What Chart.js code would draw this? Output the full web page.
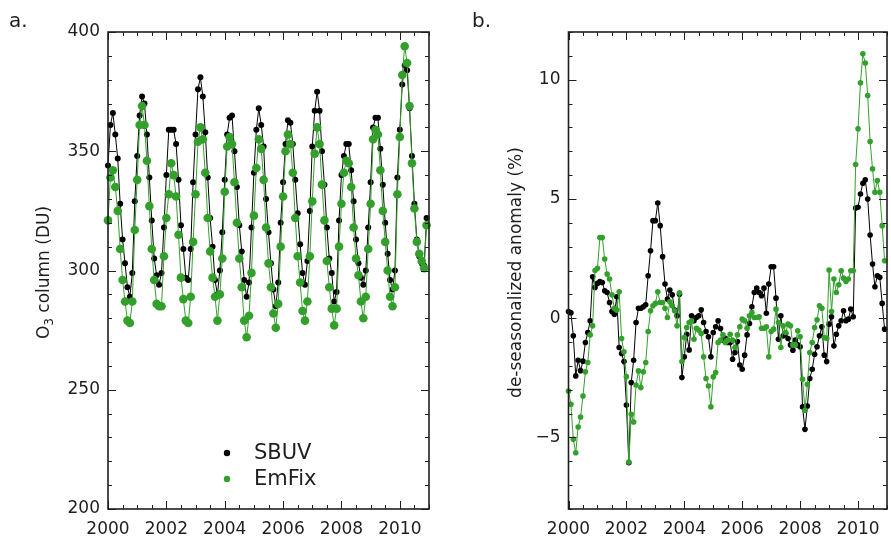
<!DOCTYPE html>
<html>
<head>
<meta charset="utf-8">
<script src="https://cdn.jsdelivr.net/npm/chart.js@4.4.1/dist/chart.umd.min.js"></script>
<style>
    html, body { margin: 0; padding: 0; background: #fff; }
    #wrap { position: relative; width: 891px; height: 539px; }
    .panel { position: absolute; top: 0; height: 539px; }
</style>
</head>
<body>
<div id="wrap">
    <div class="panel" style="left:0;width:445px"><canvas id="column-chart" width="445" height="539"></canvas></div>
    <div class="panel" style="left:445px;width:446px"><canvas id="anomaly-chart" width="446" height="539"></canvas></div>
</div>
<script>
// monthly series, Jan 2000 .. Dec 2010
const startYear = 2000;
const seriesNames = ['SBUV', 'EmFix'];

// a. O3 column (DU)
const sbuvColumn = [
    344, 361, 366, 357, 347, 328, 313, 303, 293, 289, 299, 329,
    348, 365, 373, 370, 357, 339, 321, 305, 298, 294, 299, 318,
    340, 359, 359, 359, 353, 338, 319, 309, 297, 296, 309, 337,
    357, 376, 381, 373, 358, 339, 322, 310, 296, 290, 300, 316,
    338, 357, 364, 365, 350, 335, 319, 308, 296, 289, 295, 318,
    341, 359, 368, 361, 352, 330, 316, 303, 292, 285, 295, 320,
    337, 353, 363, 362, 353, 338, 324, 311, 299, 294, 304, 325,
    352, 367, 375, 367, 350, 336, 318, 305, 299, 287, 291, 321,
    340, 348, 353, 353, 342, 329, 313, 303, 297, 294, 300, 318,
    337, 360, 364, 364, 351, 336, 320, 307, 296, 292, 300, 339,
    359, 378, 386, 384, 368, 348, 328, 313, 306, 303, 302, 322
];
const emfixColumn = [
    321, 339, 342, 335, 325, 309, 296, 287, 279, 278, 287, 317,
    338, 361, 369, 361, 346, 327, 309, 296, 286, 285, 285, 306,
    322, 332, 345, 340, 331, 315, 297, 288, 279, 278, 289, 312,
    332, 354, 360, 355, 341, 322, 308, 297, 289, 279, 290, 305,
    333, 352, 356, 353, 337, 320, 305, 293, 279, 272, 281, 299,
    323, 343, 355, 351, 338, 318, 303, 293, 282, 276, 286, 310,
    331, 350, 357, 353, 341, 322, 306, 295, 283, 279, 287, 306,
    329, 349, 360, 353, 336, 321, 304, 293, 284, 277, 284, 310,
    328, 341, 346, 345, 335, 318, 305, 298, 287, 280, 289, 309,
    328, 355, 359, 357, 342, 325, 312, 300, 289, 285, 293, 332,
    356, 382, 394, 387, 369, 345, 326, 312, 307, 304, 301, 319
];

// b. de-seasonalized anomaly (%)
const sbuvAnomaly = [
    0.28, 0.23, -0.74, -2.42, -1.76, -2.2, -1.8, -1.02, -0.6, -0.11, 1.74, 1.29,
    1.46, 1.54, 1.5, 1.15, 1.08, 0.66, 0.28, 0.17, 0.9, -1.23, -1.48, -1.82,
    -3.64, -6.06, -2.7, -1.76, -0.18, 0.42, 0.42, 0.48, 0.56, 1.78, 2.83, 4.09,
    4.09, 4.83, 3.88, 2.58, 1.43, 0.8, 1.18, 0.98, 0.34, 0.1, 1.0, -2.49,
    -1.62, -0.67, -1.33, 0.1, -0.11, 0.03, 0.1, 0.35, -0.18, -0.56, -0.78, -1.62,
    -0.6, -0.36, -0.11, -0.43, -0.92, -0.84, -1.02, -1.02, -1.72, -1.44, -0.98, -1.96,
    -2.14, -1.55, -0.7, -0.22, 0.48, 1.08, 1.26, 1.08, 0.94, 1.26, 0.21, 1.43,
    2.16, 2.16, 0.84, -0.88, 0.1, -0.74, -0.64, -0.85, -1.12, -1.34, -0.92, -1.12,
    -1.2, -3.72, -4.66, -3.68, -2.53, -2.14, -1.51, -1.2, -0.74, -0.36, -1.55, -1.82,
    -0.25, 0.06, -1.16, -0.67, -0.32, -0.11, 0.31, -0.11, -0.04, 0.38, 0.06, 4.62,
    4.65, 5.21, 5.66, 5.8, 5.0, 3.49, 2.27, 1.32, 1.78, 1.72, 0.62, -0.46
];
const emfixAnomaly = [
    -3.05, -3.61, -5.08, -5.64, -4.56, -4.14, -3.26, -2.25, -1.86, -0.7, -0.32, 2.0,
    2.09, 3.38, 3.38, 2.48, 1.85, 1.64, 0.98, 0.42, 0.34, 1.11, -0.85, -1.41,
    -2.45, -6.03, -4.03, -4.35, -2.8, -2.21, -2.91, -2.25, -1.86, -0.56, 0.31, 0.52,
    0.62, 1.11, 0.66, 0.66, 0.42, 0.03, 0.69, 0.52, 0.31, -0.32, 1.07, -1.82,
    -0.81, -0.39, -0.18, -0.11, -0.88, -0.42, -0.5, -0.64, -1.62, -2.53, -2.84, -3.72,
    -2.46, -2.28, -1.02, -0.92, -0.7, -1.02, -0.92, -0.67, -0.92, -1.23, -0.7, -0.36,
    -0.04, -0.11, -0.42, 0.1, 0.24, 0.03, 0.03, 0.06, -0.42, -0.42, -0.36, -1.62,
    -0.56, -0.46, 0.38, -0.18, -1.23, -0.32, -0.6, -0.25, -0.32, -1.12, -1.12, -0.53,
    -0.78, -2.56, -3.86, -2.77, -1.44, -1.02, -0.39, -0.07, 0.52, 0.42, -0.81, -0.84,
    2.02, 0.28, 1.64, 1.08, 1.4, 1.99, 1.68, 1.54, 1.64, 1.99, 1.99, 6.44,
    7.94, 9.87, 11.09, 10.7, 9.34, 7.41, 6.26, 5.28, 5.77, 5.28, 3.88, 2.41
];

// axis ticks
const xTickLabels = [2000, 2002, 2004, 2006, 2008, 2010];
const columnTickLabels = [200, 250, 300, 350, 400];
const anomalyTickLabels = [-5, 0, 5, 10];

const FONT = '"DejaVu Sans", sans-serif';
const INK = '#1e1e1e';
const GREEN = '#33a02c';

function toPoints(values) {
    return values.map((v, i) => ({ x: startYear + i / 12, y: v }));
}

// frame, inward ticks on all four sides, labels, titles
function framePlugin(cfg) {
    return {
        id: 'frame',
        afterDraw(chart) {
            const { ctx, chartArea: a } = chart;
            const xs = chart.scales.x, ys = chart.scales.y;
            const seg = (x1, y1, x2, y2) => {
                ctx.beginPath(); ctx.moveTo(x1, y1); ctx.lineTo(x2, y2); ctx.stroke();
            };
            ctx.save();
            ctx.strokeStyle = INK;
            ctx.lineWidth = 1;
            for (let v = xs.min; v <= xs.max + 1e-6; v += 0.5) {
                const px = Math.round(xs.getPixelForValue(v)) + 0.5;
                const len = Math.abs(v % 2) < 1e-6 ? 8 : 4;
                seg(px, a.bottom, px, a.bottom - len);
                seg(px, a.top, px, a.top + len);
            }
            for (let v = ys.min; v <= ys.max + 1e-6; v += cfg.yMinor) {
                const py = Math.round(ys.getPixelForValue(v)) + 0.5;
                const len = Math.abs(Math.round(v) % cfg.yMajor) === 0 ? 8 : 4;
                seg(a.left, py, a.left + len, py);
                seg(a.right, py, a.right - len, py);
            }
            ctx.lineWidth = 1.6;
            ctx.strokeRect(a.left, a.top, a.right - a.left, a.bottom - a.top);

            ctx.fillStyle = INK;
            ctx.font = '17px ' + FONT;
            ctx.textAlign = 'center';
            ctx.textBaseline = 'middle';
            xTickLabels.forEach(v => ctx.fillText(String(v), xs.getPixelForValue(v), a.bottom + 21));
            ctx.textAlign = 'right';
            cfg.yLabels.forEach(v => {
                const txt = v < 0 ? '\u2212' + Math.abs(v) : String(v);
                ctx.fillText(txt, a.left - 8, ys.getPixelForValue(v));
            });

            // axis title
            ctx.save();
            ctx.translate(cfg.titleX, (a.top + a.bottom) / 2 + 2);
            ctx.rotate(-Math.PI / 2);
            ctx.textAlign = 'center';
            ctx.font = '17px ' + FONT;
            if (cfg.subscript) {
                const [main, sub, rest] = cfg.subscript;
                const w1 = ctx.measureText(main).width;
                ctx.font = '12px ' + FONT;
                const w2 = ctx.measureText(sub).width;
                ctx.font = '17px ' + FONT;
                const w3 = ctx.measureText(rest).width;
                let x0 = -(w1 + w2 + w3) / 2;
                ctx.textAlign = 'left';
                ctx.fillText(main, x0, 0);
                ctx.font = '12px ' + FONT;
                ctx.fillText(sub, x0 + w1, 5);
                ctx.font = '17px ' + FONT;
                ctx.fillText(rest, x0 + w1 + w2, 0);
            } else {
                ctx.fillText(cfg.title, 0, 0);
            }
            ctx.restore();

            // panel letter
            ctx.font = '20px ' + FONT;
            ctx.textAlign = 'left';
            ctx.textBaseline = 'alphabetic';
            ctx.fillText(cfg.letter, cfg.letterX, 27);

            // legend
            if (cfg.legend) {
                ctx.font = '21px ' + FONT;
                ctx.textBaseline = 'middle';
                const colors = ['#000', GREEN];
                seriesNames.forEach((name, i) => {
                    const cy = 453 + i * 26;
                    ctx.fillStyle = colors[i];
                    ctx.beginPath(); ctx.arc(227, cy, 3.2, 0, Math.PI * 2); ctx.fill();
                    ctx.fillStyle = INK;
                    ctx.fillText(name, 254, cy + 1);
                });
            }
            ctx.restore();
        }
    };
}

function makeChart(id, sbuv, emfix, opts) {
    const ctx = document.getElementById(id);
    return new Chart(ctx, {
        type: 'line',
        data: {
            datasets: [{
                label: seriesNames[0],
                data: toPoints(sbuv),
                borderColor: '#000',
                backgroundColor: '#000',
                borderWidth: 1,
                pointRadius: opts.blackRadius,
                pointBorderWidth: 0,
                clip: false,
                order: 1
            }, {
                label: seriesNames[1],
                data: toPoints(emfix),
                borderColor: GREEN,
                backgroundColor: GREEN,
                borderWidth: 1,
                pointRadius: opts.greenRadius,
                pointBorderWidth: 0,
                clip: false,
                order: 0
            }]
        },
        options: {
            responsive: false,
            animation: false,
            devicePixelRatio: 1,
            layout: { padding: opts.padding },
            plugins: { legend: { display: false }, tooltip: { enabled: false } },
            scales: {
                x: { type: 'linear', min: 2000, max: 2011, display: false },
                y: { type: 'linear', min: opts.yMin, max: opts.yMax, display: false }
            }
        },
        plugins: [framePlugin(opts.frame)]
    });
}

makeChart('column-chart', sbuvColumn, emfixColumn, {
    yMin: 200, yMax: 400,
    blackRadius: 3, greenRadius: 4.3,
    padding: { left: 108, right: 16, top: 32, bottom: 30 },
    frame: {
        yMinor: 10, yMajor: 50, yLabels: columnTickLabels,
        titleX: 45, subscript: ['O', '3', ' column (DU)'],
        letter: 'a.', letterX: 9, legend: true
    }
});

makeChart('anomaly-chart', sbuvAnomaly, emfixAnomaly, {
    yMin: -8, yMax: 12,
    blackRadius: 2.8, greenRadius: 2.8,
    padding: { left: 123.5, right: 1, top: 32, bottom: 30 },
    frame: {
        yMinor: 1, yMajor: 5, yLabels: anomalyTickLabels,
        titleX: 72, title: 'de-seasonalized anomaly (%)',
        letter: 'b.', letterX: 27, legend: false
    }
});
</script>
</body>
</html>
